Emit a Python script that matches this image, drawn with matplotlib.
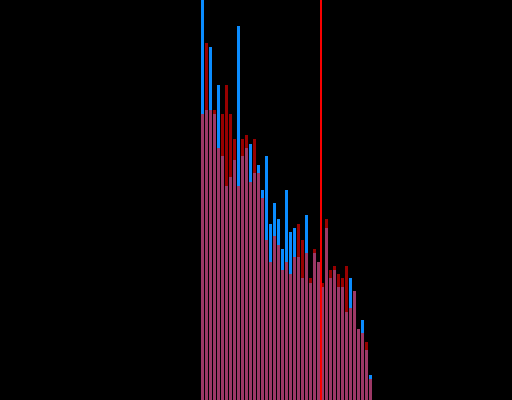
import matplotlib
matplotlib.use('Agg')
import matplotlib.pyplot as plt
import numpy as np

# bin heights (one value per bin)
blue_counts = [410, 290, 353, 286, 315, 244, 214, 223, 240, 374,
               244, 252, 256, 227, 235, 210, 244, 176, 197, 181,
               151, 210, 168, 172, 143, 122, 185, 117, 147, 138,
               113, 172, 122, 130, 113, 113, 88, 122, 109, 71,
               80, 50, 25]
red_counts = [286, 357, 290, 290, 252, 286, 315, 286, 261, 214,
              261, 265, 218, 261, 227, 202, 160, 138, 164, 155,
              130, 138, 126, 143, 176, 160, 147, 122, 151, 138,
              117, 181, 130, 134, 126, 122, 134, 92, 109, 71,
              67, 58, 21]
marker_pos = 29.5

bins = np.arange(len(blue_counts))

fig = plt.figure(figsize=(5.12, 4.0), dpi=100, facecolor='black')
ax = fig.add_axes([0, 0, 1, 1])
ax.set_facecolor('black')

ax.bar(bins, blue_counts, width=0.75, color='#0a8cff', linewidth=0)
ax.bar(bins, red_counts, width=0.75, color='red', alpha=0.6, linewidth=0)
ax.axvline(marker_pos, color='red', linewidth=1.4)

ax.set_xlim(-50.625, 77.375)
ax.set_ylim(0, 400)
ax.axis('off')

fig.savefig('out.png', dpi=100, facecolor='black')
